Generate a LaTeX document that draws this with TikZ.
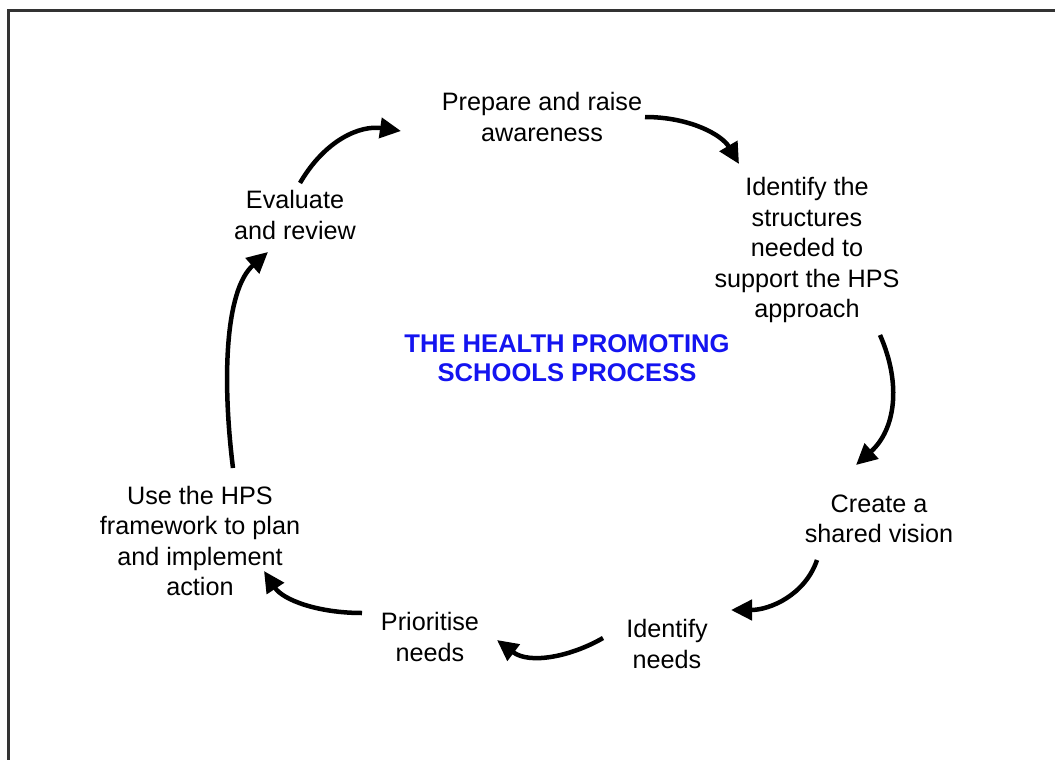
\documentclass[tikz,border=0pt]{standalone}
\usepackage{fontspec}
\setmainfont{Liberation Sans}
\usetikzlibrary{arrows.meta}
\definecolor{framegray}{RGB}{51,51,51}
\definecolor{titleblue}{RGB}{20,20,240}
\tikzset{
  lbl/.style={align=center, inner sep=0pt, font=\fontsize{25.2}{30.5}\selectfont},
  ttl/.style={align=center, inner sep=0pt, text=titleblue, font=\fontsize{25.6}{29.5}\selectfont\bfseries},
  cyc/.style={line width=4.5pt, -{Triangle[length=21pt,width=20pt]}, black},
}
\begin{document}
\begin{tikzpicture}[x=1pt,y=-1pt]
\useasboundingbox (0,0) rectangle (1055,760);
\draw[framegray, line width=3pt] (1056,11) -- (8,11) -- (8,761);

\node[lbl] (prep) at (542,117) {Prepare and raise\\awareness};
\node[lbl] (ident) at (807,250) {Identify the\\structures\\needed to\\support the HPS\\approach};
\node[ttl] (title) at (567,358) {THE HEALTH PROMOTING\\SCHOOLS PROCESS};
\node[lbl] (vision) at (879,519) {Create a\\shared vision};
\node[lbl] (needs) at (667,644) {Identify\\needs};
\node[lbl] (prio) at (430,637) {Prioritise\\needs};
\node[lbl] (plan) at (200,541) {Use the HPS\\framework to plan\\and implement\\action};
\node[lbl] (eval) at (295,215) {Evaluate\\and review};

\coordinate (e1s) at (300,183); \coordinate (e1t) at (401,131);
\coordinate (e2s) at (645,117); \coordinate (e2t) at (739,164);
\coordinate (e3s) at (880,335); \coordinate (e3t) at (856,465);
\coordinate (e4s) at (817,560); \coordinate (e4t) at (731,610);
\coordinate (e5s) at (603,638); \coordinate (e5t) at (497,640);
\coordinate (e6s) at (362,613); \coordinate (e6t) at (264,571);
\coordinate (e7s) at (233,468); \coordinate (e7t) at (268,252);

\draw[cyc] (e1s) .. controls (325,140) and (360,125) .. (e1t);
\draw[cyc] (e2s) .. controls (690,117) and (722,135) .. (e2t);
\draw[cyc] (e3s) .. controls (902,385) and (895,430) .. (e3t);
\draw[cyc] (e4s) .. controls (805,595) and (770,610) .. (e4t);
\draw[cyc] (e5s) .. controls (572,656) and (530,665) .. (e5t);
\draw[cyc] (e6s) .. controls (318,613) and (283,600) .. (e6t);
\draw[cyc] (e7s) .. controls (222,380) and (225,290) .. (e7t);
\end{tikzpicture}
\end{document}
